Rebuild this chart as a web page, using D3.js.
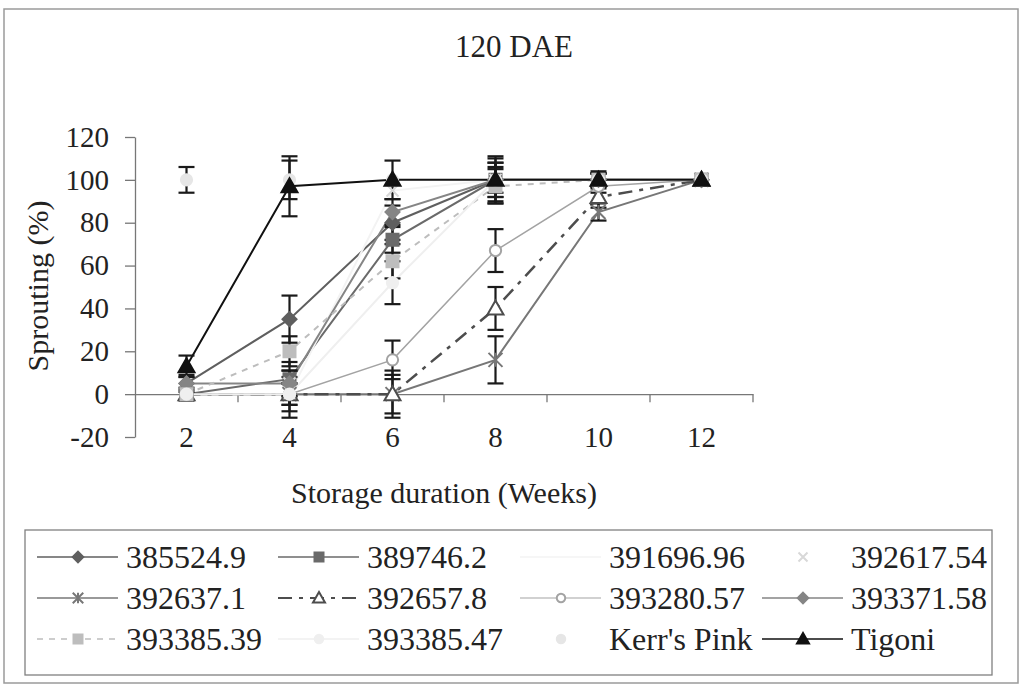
<!doctype html>
<html>
<head>
<meta charset="utf-8">
<script src="https://cdn.jsdelivr.net/npm/d3@7"></script>
</head>
<body style="margin:0; background:#fff">
<script>
// categories and tick labels
var weeks = ["2", "4", "6", "8", "10", "12"];
var yTicks = [-20, 0, 20, 40, 60, 80, 100, 120];
var names = ["385524.9", "389746.2", "391696.96", "392617.54",
             "392637.1", "392657.8", "393280.57", "393371.58",
             "393385.39", "393385.47", "Kerr's Pink", "Tigoni"];

// sprouting (%) per series
var v385524_9  = [5, 35, 80, 100, 100, 100];
var v389746_2  = [0, 7, 72, 100, 100, 100];
var v391696_96 = [0, 0, 95, 100, 100, 100];
var v392617_54 = [0, 5, 95, 100, 100, 100];
var v392637_1  = [0, 0, 0, 16, 85, 100];
var v392657_8  = [0, 0, 0, 40, 92, 100];
var v393280_57 = [0, 0, 16, 67, 97, 100];
var v393371_58 = [5, 5, 85, 100, 100, 100];
var v393385_39 = [0, 20, 62, 97, 100, 100];
var v393385_47 = [0, 0, 52, 100, 100, 100];
var vKerrsPink = [100, 100, 100, 100, 100, 100];
var vTigoni    = [13, 97, 100, 100, 100, 100];

// error bar half-widths
var e385524_9  = [4, 11, 8, 8, 3, 0];
var e389746_2  = [3, 8, 6, 8, 3, 0];
var e391696_96 = [0, 0, 0, 0, 0, 0];
var e392617_54 = [0, 0, 0, 0, 0, 0];
var e392637_1  = [0, 5, 9, 11, 4, 0];
var e392657_8  = [0, 8, 11, 10, 5, 0];
var e393280_57 = [0, 5, 9, 10, 3, 0];
var e393371_58 = [3, 6, 6, 10, 3, 0];
var e393385_39 = [0, 7, 8, 8, 3, 0];
var e393385_47 = [0, 11, 10, 6, 0, 0];
var eKerrsPink = [6, 9, 0, 0, 0, 0];
var eTigoni    = [5, 14, 9, 11, 4, 0];

var values = [v385524_9, v389746_2, v391696_96, v392617_54, v392637_1, v392657_8,
              v393280_57, v393371_58, v393385_39, v393385_47, vKerrsPink, vTigoni];
var errors = [e385524_9, e389746_2, e391696_96, e392617_54, e392637_1, e392657_8,
              e393280_57, e393371_58, e393385_39, e393385_47, eKerrsPink, eTigoni];

// look of each series (line colour, marker, dash)
var styles = [
  {color: "#5f5f5f", marker: "diamond", fill: true, line: true, width: 2, dash: null},
  {color: "#6a6a6a", marker: "square", fill: true, line: true, width: 2, dash: null},
  {color: "#f3f3f3", marker: "none", fill: true, line: true, width: 2, dash: null},
  {color: "#d8d8d8", marker: "x", fill: false, line: false, width: 2, dash: null},
  {color: "#777777", marker: "asterisk", fill: false, line: true, width: 2, dash: null},
  {color: "#4d4d4d", marker: "triangle", fill: false, line: true, width: 2.5, dash: "14,7,4,7"},
  {color: "#a3a3a3", marker: "circle", fill: false, line: true, width: 1.5, dash: null},
  {color: "#858585", marker: "diamond", fill: true, line: true, width: 2, dash: null},
  {color: "#bdbdbd", marker: "square", fill: true, line: true, width: 2, dash: "6,6"},
  {color: "#efefef", marker: "circle", fill: true, line: true, width: 2, dash: null},
  {color: "#e6e6e6", marker: "circle", fill: true, line: false, width: 2, dash: null},
  {color: "#111111", marker: "triangle", fill: true, line: true, width: 2, dash: null}
];

var FONT = "'Liberation Serif', 'Times New Roman', serif";
// set the font on a text selection, inline so nothing overrides it
function serif(sel, size) {
  sel.attr("font-family", "Liberation Serif")
     .style("font-family", FONT, "important")
     .style("font-size", size + "px", "important")
     .style("fill", "#222");
  return sel;
}

var W = 1025, H = 689;
var svg = d3.select("body").append("svg")
    .attr("width", W)
    .attr("height", H);

// outer frame
svg.append("rect").attr("x", 4).attr("y", 9).attr("width", 1014).attr("height", 674)
    .attr("fill", "none").attr("stroke", "#9a9a9a").attr("stroke-width", 1.5);

var x = d3.scaleBand().domain(weeks).range([135, 753]).padding(0);
var y = d3.scaleLinear().domain([-20, 120]).range([437, 137]);
var cx = function(i) { return x(weeks[i]) + x.bandwidth() / 2; };

// title
serif(svg.append("text")
    .attr("x", 514).attr("y", 57)
    .attr("text-anchor", "middle")
    .text("120 DAE"), 31);

// y axis
var yAxis = svg.append("g")
    .attr("transform", "translate(135,0)")
    .call(d3.axisLeft(y).tickValues(yTicks).tickSize(10).tickSizeOuter(0).tickPadding(16)
      .tickFormat(function(d) { return String(d); }));
serif(yAxis.selectAll("text"), 29);
yAxis.selectAll("line, path").attr("stroke", "#777").attr("stroke-width", 1.3);

// x axis sits on zero, labels pushed down to the bottom
var xAxis = svg.append("g")
    .attr("transform", "translate(0," + y(0) + ")")
    .call(d3.axisBottom(x).tickSize(0).tickSizeOuter(0).tickPadding(32));
serif(xAxis.selectAll("text"), 29);
xAxis.select("path").attr("stroke", "#777").attr("stroke-width", 1.3);
xAxis.selectAll(".edge")
    .data(weeks.slice(1).concat(["end"]))
  .enter().append("line")
    .attr("class", "edge")
    .attr("x1", function(d, i) { return x(weeks[0]) + (i + 1) * x.bandwidth(); })
    .attr("x2", function(d, i) { return x(weeks[0]) + (i + 1) * x.bandwidth(); })
    .attr("y1", 0).attr("y2", 8)
    .attr("stroke", "#777").attr("stroke-width", 1.3);

// axis titles
serif(svg.append("text")
    .attr("x", 444).attr("y", 503)
    .attr("text-anchor", "middle")
    .text("Storage duration (Weeks)"), 30);

serif(svg.append("text")
    .attr("transform", "translate(48,286) rotate(-90)")
    .attr("text-anchor", "middle")
    .text("Sprouting (%)"), 30);

// marker shapes
function markerPath(type) {
  var s;
  if (type == "diamond") { s = 7; return "M0," + -s + "L" + s + ",0L0," + s + "L" + -s + ",0Z"; }
  if (type == "square") { s = 6; return "M" + -s + "," + -s + "h" + 2 * s + "v" + 2 * s + "h" + -2 * s + "Z"; }
  if (type == "triangle") { s = 8; return "M0," + -s + "L" + s + "," + s * 0.75 + "L" + -s + "," + s * 0.75 + "Z"; }
  if (type == "x") { s = 6; return "M" + -s + "," + -s + "L" + s + "," + s + "M" + s + "," + -s + "L" + -s + "," + s; }
  if (type == "asterisk") { s = 7; return "M" + -s + "," + -s + "L" + s + "," + s + "M" + s + "," + -s + "L" + -s + "," + s + "M0," + -s + "L0," + s; }
  if (type == "circle") { return d3.symbol().type(d3.symbolCircle).size(100)(); }
  return "";
}

var line = d3.line()
    .x(function(d, i) { return cx(i); })
    .y(function(d) { return y(d); });

var plot = svg.append("g");

// lines
values.forEach(function(vals, k) {
  var st = styles[k];
  if (!st.line) return;
  plot.append("path")
      .datum(vals)
      .attr("fill", "none")
      .attr("stroke", st.color)
      .attr("stroke-width", st.width)
      .attr("stroke-dasharray", st.dash)
      .attr("d", line);
});

// error bars
values.forEach(function(vals, k) {
  vals.forEach(function(v, i) {
    var e = errors[k][i];
    if (!e) return;
    var g = plot.append("g").attr("stroke", "#1a1a1a").attr("stroke-width", 2.2);
    g.append("line").attr("x1", cx(i)).attr("x2", cx(i)).attr("y1", y(v - e)).attr("y2", y(v + e));
    g.append("line").attr("x1", cx(i) - 8).attr("x2", cx(i) + 8).attr("y1", y(v - e)).attr("y2", y(v - e));
    g.append("line").attr("x1", cx(i) - 8).attr("x2", cx(i) + 8).attr("y1", y(v + e)).attr("y2", y(v + e));
  });
});

// markers
function drawMarker(g, st, px, py, scale) {
  if (st.marker == "none") return;
  g.append("path")
      .attr("transform", "translate(" + px + "," + py + ") scale(" + (scale || 1) + ")")
      .attr("d", markerPath(st.marker))
      .attr("fill", st.fill ? st.color : "#fff")
      .attr("fill-opacity", (st.marker == "x" || st.marker == "asterisk") ? 0 : 1)
      .attr("stroke", st.color)
      .attr("stroke-width", 2 / (scale || 1));
}

values.forEach(function(vals, k) {
  vals.forEach(function(v, i) { drawMarker(plot, styles[k], cx(i), y(v)); });
});

// legend
svg.append("rect").attr("x", 25).attr("y", 530).attr("width", 967).attr("height", 145)
    .attr("fill", "none").attr("stroke", "#808080").attr("stroke-width", 1.3);

var colX = [37, 278, 520, 762];
var rowY = [557, 598, 639];
var legend = svg.append("g");
names.forEach(function(n, k) {
  var lx = colX[k % 4], ly = rowY[Math.floor(k / 4)];
  var st = styles[k];
  if (st.line) {
    legend.append("line")
        .attr("x1", lx).attr("x2", lx + 81).attr("y1", ly).attr("y2", ly)
        .attr("stroke", st.color).attr("stroke-width", st.width * 0.8)
        .attr("stroke-dasharray", st.dash);
  }
  drawMarker(legend, st, lx + 41, ly, 0.75);
  serif(legend.append("text")
      .attr("x", lx + 89).attr("y", ly)
      .attr("dy", "0.35em")
      .text(n), 32);
});
</script>
</body>
</html>
